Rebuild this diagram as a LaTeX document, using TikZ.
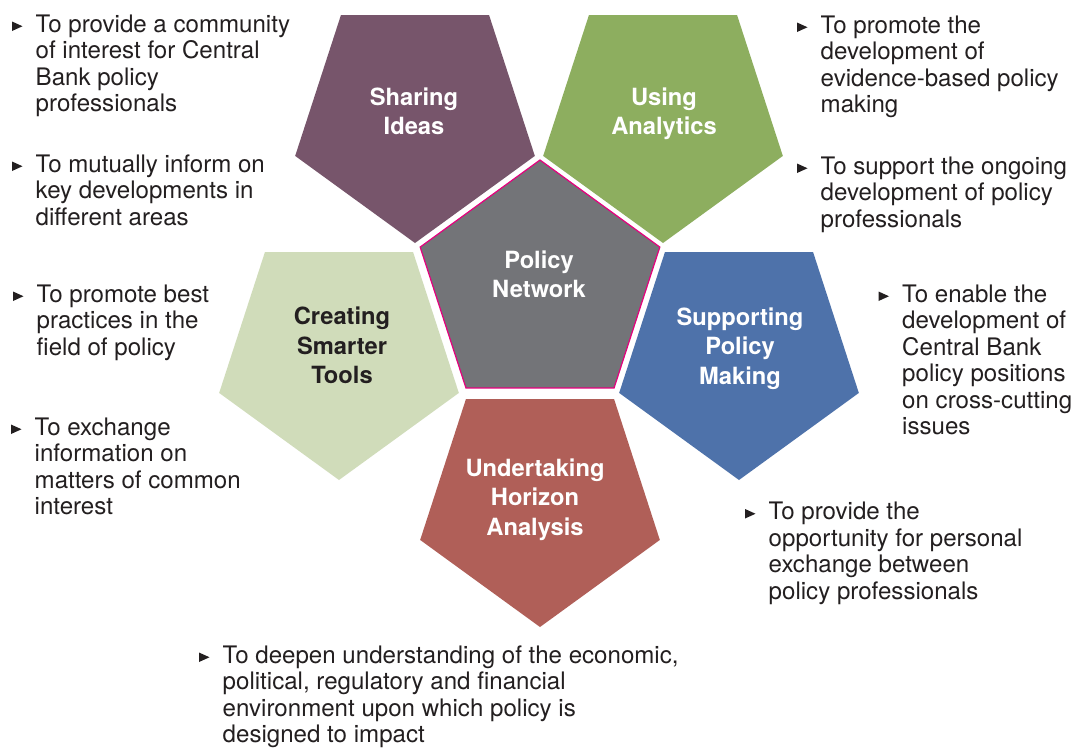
\documentclass[tikz,border=0pt]{standalone}
\usepackage{fontspec}
\setmainfont{TeX Gyre Heros}
\usetikzlibrary{shapes.geometric}

\definecolor{ink}{HTML}{231F20}
\definecolor{ideas}{HTML}{77556B}
\definecolor{analytics}{HTML}{8DAE5F}
\definecolor{tools}{HTML}{D0DCBA}
\definecolor{support}{HTML}{4E72AA}
\definecolor{horizon}{HTML}{B05F58}
\definecolor{network}{HTML}{737478}
\definecolor{rim}{HTML}{E5007D}

\tikzset{
	pent/.style={regular polygon, regular polygon sides=5, minimum size=252pt, inner sep=0pt, outer sep=0pt},
	down/.style={shape border rotate=180},
	lbl/.style={align=center, inner sep=0pt, text=white, font=\bfseries\fontsize{23.7}{29.5}\selectfont},
	txt/.style={anchor=north west, align=left, inner sep=0pt, text=ink, font=\fontsize{24.1}{26.5}\selectfont}
}
\newcommand{\bul}[1]{\fill[ink] (#1.north west) ++(-23.5,8) -- ++(0,9.5) -- ++(10.5,-4.75) -- cycle;}

\begin{document}
\begin{tikzpicture}[x=1pt, y=-1pt]
	\useasboundingbox (0,0) rectangle (1086,747);
	\fill[white] (0,0) rectangle (1086,747);

	\node[pent, down, fill=ideas] (ideas) at (415,117) {};
	\node[pent, down, fill=analytics] (analytics) at (663,117) {};
	\node[pent, down, fill=tools] (tools) at (339,354) {};
	\node[pent, down, fill=support] (support) at (739,354) {};
	\node[pent, down, fill=horizon] (horizon) at (540,501) {};
	\node[pent, fill=network, draw=rim, line width=1.2pt, preaction={draw=white, line width=6pt}] (network) at (540,286) {};

	\node[lbl] (ideasL) at (414,111.5) {Sharing\\Ideas};
	\node[lbl] (analyticsL) at (664,114) {Using\\Analytics};
	\node[lbl] (networkL) at (539,274.5) {Policy\\Network};
	\node[lbl, text=ink] (toolsL) at (342,345.5) {Creating\\Smarter\\Tools};
	\node[lbl] (supportL) at (740,348.5) {Supporting\\Policy\\Making};
	\node[lbl] (horizonL) at (535,499.5) {Undertaking\\Horizon\\Analysis};

	\node[txt] (t1) at (35.5,13.5) {\strut To provide a community\\of interest for Central\\Bank policy\\professionals};
	\node[txt] (t2) at (35.5,153.5) {\strut To mutually inform on\\key developments in\\different areas};
	\node[txt] (t3) at (36.5,283.5) {\strut To promote best\\practices in the\\field of policy};
	\node[txt] (t4) at (34.5,416.5) {\strut To exchange\\information on\\matters of common\\interest};
	\node[txt] (t5) at (820.5,14.5) {\strut To promote the\\development of\\evidence-based policy\\making};
	\node[txt] (t6) at (820.5,155.5) {\strut To support the ongoing\\development of policy\\professionals};
	\node[txt] (t7) at (902,283.5) {\strut To enable the\\development of\\Central Bank\\policy positions\\on cross-cutting\\issues};
	\node[txt] (t8) at (768.5,501) {\strut To provide the\\opportunity for personal\\exchange between\\policy professionals};
	\node[txt] (t9) at (222.5,644.5) {\strut To deepen understanding of the economic,\\political, regulatory and financial\\environment upon which policy is\\designed to impact};

	\bul{t1} \bul{t2} \bul{t3} \bul{t4} \bul{t5}
	\bul{t6} \bul{t7} \bul{t8} \bul{t9}
\end{tikzpicture}
\end{document}
